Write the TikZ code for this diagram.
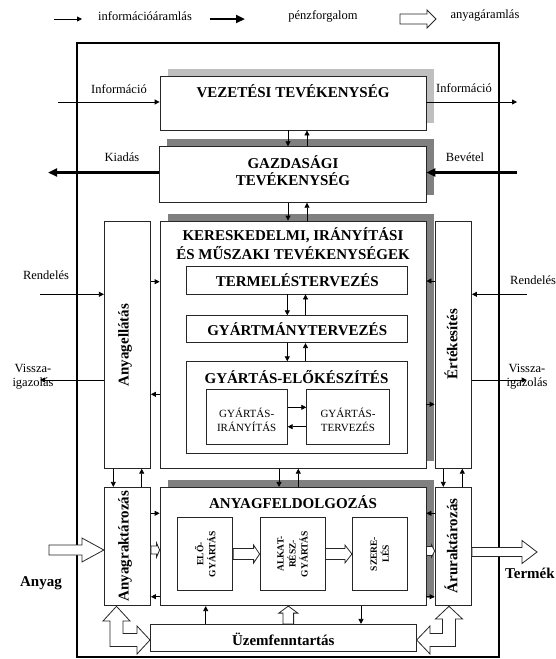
\documentclass[tikz,border=0pt]{standalone}
\usepackage{fontspec}
\setmainfont{Liberation Serif}
\usetikzlibrary{arrows.meta,calc,fit,shadows}
\begin{document}
\begin{tikzpicture}[x=1pt,y=-1pt,
  box/.style={draw=black!85, line width=0.8pt, fill=white, inner sep=0pt},
  shL/.style={drop shadow={shadow xshift=7.5pt,shadow yshift=7.5pt,fill=black!25,opacity=1}},
  shD/.style={drop shadow={shadow xshift=7.5pt,shadow yshift=7.5pt,fill=black!50,opacity=1}},
  ttl/.style={font=\bfseries\fontsize{15}{18}\selectfont, inner sep=0pt, align=center},
  sml/.style={font=\fontsize{12.5}{14}\selectfont, inner sep=0pt, align=center},
  inr/.style={font=\fontsize{11}{13.5}\selectfont, inner sep=0pt, align=center},
  rot/.style={font=\bfseries\fontsize{9.5}{12}\selectfont, inner sep=0pt, align=center, rotate=90},
  info/.style={line width=0.8pt, -{Triangle[length=5pt,width=5pt]}},
  money/.style={line width=2.6pt, -{Triangle[length=9pt,width=8pt]}},
  hollow/.style n args={3}{draw=black!85, line width=0.8pt, fill=white, to path={
    ($(\tikztotarget)!#3!(\tikztostart)$) coordinate (hb)
    ($(\tikztostart)!#1!90:(\tikztotarget)$) -- ($(hb)!#1!90:(\tikztotarget)$)
    -- ($(hb)!#2!90:(\tikztotarget)$) -- (\tikztotarget)
    -- ($(hb)!#2!-90:(\tikztotarget)$) -- ($(hb)!#1!-90:(\tikztotarget)$)
    -- ($(\tikztostart)!#1!-90:(\tikztotarget)$) -- cycle}},
  lshape/.style={draw=black!85, line width=0.8pt, fill=white},
  frame/.style={line width=2.5pt}
]
\useasboundingbox (0,0) rectangle (555,659);

% legend
\coordinate (lg1a) at (54,19); \coordinate (lg1b) at (82,19);
\coordinate (lg2a) at (210,19); \coordinate (lg2b) at (245,19);
\coordinate (lg3a) at (400,19); \coordinate (lg3b) at (436,19);
\draw[info] (lg1a) -- (lg1b);
\node[sml] (lgt1) at (145,16) {információáramlás};
\draw[money] (lg2a) -- (lg2b);
\node[sml] (lgt2) at (323,16) {pénzforgalom};
\draw[hollow={5pt}{9pt}{9pt}] (lg3a) to (lg3b);
\node[sml] (lgt3) at (485,16) {anyagáramlás};

% frame
\draw[frame] (77,43) rectangle (499,657);

% boxes
\node[box, shL, fit={(160,76)(426,130)}] (vez) {};
\node[box, shD, fit={(159.5,146.7)(426,202.3)}] (gaz) {};
\node[box, shD, fit={(160,221)(426,468.3)}] (ker) {};
\node[box, fit={(186.7,266.7)(407.7,294)}] (term) {};
\node[box, fit={(186.7,315.7)(407.7,342.7)}] (gym) {};
\node[box, fit={(186.7,361.7)(407.7,453.3)}] (gye) {};
\node[box, fit={(206,389.3)(287.3,444.3)}] (gyi) {};
\node[box, fit={(306.7,389.3)(389,444.3)}] (gyt) {};
\node[box, fit={(104.3,221)(150.5,468.3)}] (ae) {};
\node[box, fit={(435,221)(471.5,468.3)}] (ert) {};
\node[box, fit={(104.3,487.3)(150.5,605.7)}] (ar) {};
\node[box, shD, fit={(160,487.3)(426,605.7)}] (af) {};
\node[box, fit={(177.7,517.3)(232.7,590.7)}] (elo) {};
\node[box, fit={(260,517.3)(325,590.7)}] (alk) {};
\node[box, fit={(352.3,517.3)(407.3,590.7)}] (szr) {};
\node[box, fit={(435,487.3)(471.5,605.7)}] (ara) {};
\node[box, fit={(150,624.3)(416.7,651.7)}] (uz) {};

% texts
\node[ttl] (vezt) at (293,91) {VEZETÉSI TEVÉKENYSÉG};
\node[ttl, font=\bfseries\fontsize{15}{17.5}\selectfont] (gazt) at (293,170.5) {GAZDASÁGI\\TEVÉKENYSÉG};
\node[ttl, font=\bfseries\fontsize{15}{19}\selectfont] (kert) at (293,244) {KERESKEDELMI, IRÁNYÍTÁSI\\ÉS MŰSZAKI TEVÉKENYSÉGEK};
\node[ttl] (termt) at (297.2,280.5) {TERMELÉSTERVEZÉS};
\node[ttl] (gymt) at (297.2,329.5) {GYÁRTMÁNYTERVEZÉS};
\node[ttl] (gyet) at (296.5,377) {GYÁRTÁS-ELŐKÉSZÍTÉS};
\node[inr] (gyit) at (246.7,420) {GYÁRTÁS-\\IRÁNYÍTÁS};
\node[inr] (gytt) at (348,420) {GYÁRTÁS-\\TERVEZÉS};
\node[ttl, rotate=90] (aet) at (125,345) {Anyagellátás};
\node[ttl, rotate=90] (ertt) at (451,344) {Értékesítés};
\node[ttl, rotate=90] (art) at (125,546) {Anyagraktározás};
\node[ttl, rotate=90] (arat) at (451,546) {Áruraktározás};
\node[ttl] (aft) at (293,502) {ANYAGFELDOLGOZÁS};
\node[rot] (elot) at (205.2,554) {ELŐ-\\GYÁRTÁS};
\node[rot] (alkt) at (292.5,554) {ALKAT-\\RÉSZ-\\GYÁRTÁS};
\node[rot] (szrt) at (379.8,554) {SZERE-\\LÉS};
\node[ttl] (uzt) at (283.3,639) {Üzemfenntartás};

% side labels
\node[sml] (l1) at (119,89) {Információ};
\node[sml] (l2) at (464,88) {Információ};
\node[sml] (l3) at (122,157) {Kiadás};
\node[sml] (l4) at (465,157) {Bevétel};
\node[sml] (l5) at (46,275) {Rendelés};
\node[sml, anchor=west] (l6) at (510,280) {Rendelés};
\node[sml] (l7) at (33,377) {Vissza-\\igazolás};
\node[sml] (l8) at (527,377) {Vissza-\\igazolás};
\node[ttl] (l9) at (41,583) {Anyag};
\node[ttl, anchor=west] (l10) at (505,573) {Termék};

% free ends
\coordinate (infoL) at (58,102);
\coordinate (infoR) at (517,102);
\coordinate (kiadas) at (48,172.5);
\coordinate (bevetel) at (517,172.5);
\coordinate (rendL) at (40,294.3);
\coordinate (visszaL) at (40,380);
\coordinate (rendR) at (526.7,294.3);
\coordinate (visszaR) at (526.7,380);
\coordinate (anyagIn) at (49,550);
\coordinate (termekOut) at (537,552);

% info arrows
\draw[info] (infoL) -- (infoL -| vez.west);
\draw[info] (vez.east |- infoR) -- (infoR);
\draw[info] (vez.south -| 288,0) -- (gaz.north -| 288,0);
\draw[info] (gaz.north -| 307,0) -- (vez.south -| 307,0);
\draw[info] (gaz.south -| 288,0) -- (ker.north -| 288,0);
\draw[info] (ker.north -| 307,0) -- (gaz.south -| 307,0);
\draw[info] (term.south -| 287.3,0) -- (gym.north -| 287.3,0);
\draw[info] (gym.north -| 305.5,0) -- (term.south -| 305.5,0);
\draw[info] (gym.south -| 287.3,0) -- (gye.north -| 287.3,0);
\draw[info] (gye.north -| 305.5,0) -- (gym.south -| 305.5,0);
\draw[info] (gyi.east |- 0,407.3) -- (gyt.west |- 0,407.3);
\draw[info] (gyt.west |- 0,426.7) -- (gyi.east |- 0,426.7);
\draw[info] (ae.east |- 0,281.7) -- (ker.west |- 0,281.7);
\draw[info] (ker.west |- 0,394.3) -- (ae.east |- 0,394.3);
\draw[info] (ert.west |- 0,281) -- (ker.east |- 0,281);
\draw[info] (ker.east |- 0,404.3) -- (ert.west |- 0,404.3);
\draw[info] (rendL) -- (rendL -| ae.west);
\draw[info] (ae.west |- visszaL) -- (visszaL);
\draw[info] (rendR) -- (rendR -| ert.east);
\draw[info] (ert.east |- visszaR) -- (visszaR);
\draw[info] (ae.south -| 113.3,0) -- (ar.north -| 113.3,0);
\draw[info] (ar.north -| 141.7,0) -- (ae.south -| 141.7,0);
\draw[info] (ker.south -| 279,0) -- (af.north -| 279,0);
\draw[info] (af.north -| 298.3,0) -- (ker.south -| 298.3,0);
\draw[info] (ert.south -| 443.3,0) -- (ara.north -| 443.3,0);
\draw[info] (ara.north -| 462.3,0) -- (ert.south -| 462.3,0);
\draw[info] (ar.east |- 0,513.3) -- (af.west |- 0,513.3);
\draw[info] (af.west |- 0,596.7) -- (ar.east |- 0,596.7);
\draw[info] (ara.west |- 0,513.3) -- (af.east |- 0,513.3);
\draw[info] (af.east |- 0,596.7) -- (ara.west |- 0,596.7);
\draw[info] (uz.north -| 205.7,0) -- (af.south -| 205.7,0);
\draw[info] (af.south -| 361,0) -- (uz.north -| 361,0);

% money arrows
\draw[money] (gaz.west |- kiadas) -- (kiadas);
\draw[money] (bevetel) -- (bevetel -| gaz.east);

% material arrows
\draw[hollow={5pt}{12pt}{22pt}] (anyagIn) to (anyagIn -| ar.west);
\draw[hollow={4.5pt}{11.5pt}{15pt}] (ara.east |- termekOut) to (termekOut);
\draw[hollow={5.5pt}{9pt}{6pt}] (elo.east |- 0,554) to (alk.west |- 0,554);
\draw[hollow={5.5pt}{9pt}{7pt}] (alk.east |- 0,554) to (szr.west |- 0,554);
\draw[hollow={4pt}{7pt}{3pt}] (ar.east |- 0,550) to (af.west |- 0,550);
\draw[hollow={4.5pt}{6pt}{3pt}] (af.east |- 0,551) to (ara.west |- 0,551);
\draw[hollow={5.3pt}{9.5pt}{7pt}] (uz.north -| 288.3,0) to (af.south -| 288.3,0);

% L-shaped double material arrows
\draw[lshape] (116.5,606.3) -- (130,621) -- (123,621) -- (123,633.5) -- (137,633.5) -- (137,626)
  -- (150,640) -- (137,654) -- (137,646.5) -- (110,646.5) -- (110,621) -- (103,621) -- cycle;
\draw[lshape] (449,606.3) -- (462.5,619) -- (455.5,619) -- (455.5,646.5) -- (430,646.5) -- (430,654)
  -- (416.7,640) -- (430,626) -- (430,633.5) -- (442.5,633.5) -- (442.5,619) -- (435.5,619) -- cycle;
\end{tikzpicture}
\end{document}
